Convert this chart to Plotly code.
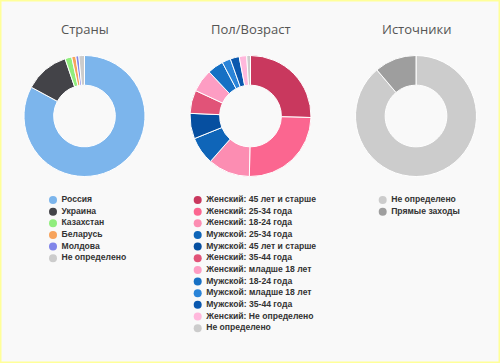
import plotly.graph_objects as go

# ---------------- data ----------------
titles = ["Страны", "Пол/Возраст", "Источники"]

country_labels = ["Россия", "Украина", "Казахстан", "Беларусь", "Молдова", "Не определено"]
country_values = [82.9, 11.9, 1.8, 1.1, 0.8, 1.5]
country_colors = ["#7cb5ec", "#434348", "#90ed7d", "#f7a35c", "#8085e9", "#cccccc"]

gender_labels = [
    "Женский: 45 лет и старше", "Женский: 25-34 года", "Женский: 18-24 года",
    "Мужской: 25-34 года", "Мужской: 45 лет и старше", "Женский: 35-44 года",
    "Женский: младше 18 лет", "Мужской: 18-24 года", "Мужской: младше 18 лет",
    "Мужской: 35-44 года", "Женский: Не определено", "Не определено",
]
gender_values = [25.4, 24.9, 11.2, 7.4, 6.8, 6.2, 6.1, 4.3, 2.3, 2.4, 2.0, 1.0]
gender_colors = ["#c9385e", "#fb6690", "#fc8db2", "#0f65b8", "#064fa0", "#e15378",
                 "#fd9dc3", "#1670c4", "#2a84d8", "#0b58ae", "#ffb8dc", "#cccccc"]

source_labels = ["Не определено", "Прямые заходы"]
source_values = [88.8, 11.2]
source_colors = ["#cccccc", "#9e9e9e"]

# ---------------- layout constants ----------------
W, H = 500, 363
centers_x = [84.5, 250.5, 416.0]
center_y = 116.0
radius = 60.5
legend_marker_x = [53.0, 197.7, 382.7]
legend_top = 200.0
legend_step = 11.65

groups = [
    (country_labels, country_values, country_colors),
    (gender_labels, gender_values, gender_colors),
    (source_labels, source_values, source_colors),
]

fig = go.Figure()

for i, (labels, values, colors) in enumerate(groups):
    cx = centers_x[i]
    fig.add_trace(go.Pie(
        labels=labels, values=values,
        marker=dict(colors=colors, line=dict(color="white", width=1)),
        hole=0.51, sort=False, direction="clockwise", rotation=0,
        textinfo="none", hoverinfo="label+percent", showlegend=False,
        domain=dict(x=[(cx - radius) / W, (cx + radius) / W],
                    y=[1 - (center_y + radius) / H, 1 - (center_y - radius) / H]),
    ))
    ys = [legend_top + k * legend_step for k in range(len(labels))]
    fig.add_trace(go.Scatter(
        x=[legend_marker_x[i]] * len(labels), y=ys, mode="markers",
        marker=dict(size=8, color=colors, line=dict(width=0)),
        hoverinfo="skip", showlegend=False, cliponaxis=False,
    ))
    fig.add_trace(go.Scatter(
        x=[legend_marker_x[i] + 8.5] * len(labels), y=ys, mode="text",
        text=labels, textposition="middle right",
        textfont=dict(family="Liberation Sans, Arial, sans-serif", size=8.6,
                      color="#333333", weight="bold"),
        hoverinfo="skip", showlegend=False, cliponaxis=False,
    ))
    fig.add_annotation(
        x=cx, y=29, xref="x", yref="y", text=titles[i], showarrow=False,
        font=dict(family="Open Sans, DejaVu Sans, sans-serif", size=13, color="#555555"),
        xanchor="center", yanchor="middle",
    )

fig.add_shape(type="rect", xref="paper", yref="paper", x0=0, x1=1, y0=0, y1=1,
              line=dict(color="#ffff99", width=3), layer="above")

fig.update_layout(
    width=W, height=H, autosize=False,
    margin=dict(l=0, r=0, t=0, b=0),
    paper_bgcolor="#f9f9f9", plot_bgcolor="#f9f9f9",
    showlegend=False,
    xaxis=dict(range=[0, W], visible=False, fixedrange=True, domain=[0, 1]),
    yaxis=dict(range=[H, 0], visible=False, fixedrange=True, domain=[0, 1]),
)

fig.write_html("out.html", config={"displayModeBar": False},
               post_script="document.body.style.margin='0';")
